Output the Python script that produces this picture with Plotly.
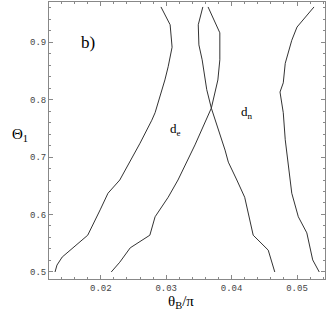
import plotly.graph_objects as go

# Curve data (theta_B/pi, Theta_1)
a_x = [0.0130, 0.0133, 0.0141, 0.0161, 0.0180, 0.0199, 0.0211, 0.0229, 0.0260, 0.0278, 0.0283, 0.0298, 0.0303, 0.0309, 0.0306, 0.0292]
a_y = [0.500, 0.512, 0.526, 0.545, 0.564, 0.608, 0.637, 0.660, 0.724, 0.764, 0.777, 0.834, 0.857, 0.891, 0.930, 0.961]

b_x = [0.0216, 0.0229, 0.0245, 0.0275, 0.0283, 0.0303, 0.0318, 0.0344, 0.0369, 0.0379, 0.0382, 0.0382, 0.0364]
b_y = [0.500, 0.517, 0.542, 0.564, 0.596, 0.630, 0.660, 0.721, 0.785, 0.834, 0.869, 0.916, 0.961]

c_x = [0.0466, 0.0456, 0.0433, 0.0420, 0.0408, 0.0395, 0.0390, 0.0369, 0.0362, 0.0355, 0.0350, 0.0349, 0.0356]
c_y = [0.500, 0.538, 0.564, 0.630, 0.660, 0.691, 0.712, 0.785, 0.817, 0.869, 0.895, 0.930, 0.961]

d_x = [0.0534, 0.0524, 0.0515, 0.0502, 0.0492, 0.0486, 0.0482, 0.0479, 0.0474, 0.0479, 0.0482, 0.0492, 0.0500, 0.0526]
d_y = [0.500, 0.521, 0.568, 0.596, 0.637, 0.690, 0.730, 0.777, 0.813, 0.829, 0.863, 0.903, 0.926, 0.961]

x_ticks = [0.02, 0.03, 0.04, 0.05]
y_ticks = [0.5, 0.6, 0.7, 0.8, 0.9]

fig = go.Figure()
for xs, ys in [(a_x, a_y), (b_x, b_y), (c_x, c_y), (d_x, d_y)]:
    fig.add_trace(go.Scatter(x=xs, y=ys, mode="lines",
                             line=dict(color="#333333", width=1), showlegend=False))

axis_common = dict(
    showline=True, linecolor="#888888", linewidth=1, mirror="allticks",
    ticks="inside", ticklen=4, tickcolor="#888888", tickwidth=1,
    showgrid=False, zeroline=False,
    tickfont=dict(family="Liberation Mono", size=9, color="#444444"),
)

fig.update_xaxes(range=[0.01208, 0.05428], tickvals=x_ticks,
                 ticktext=[f"{v:.2f}" for v in x_ticks],
                 minor=dict(dtick=0.002, ticks="inside", ticklen=2, tickcolor="#888888"),
                 **axis_common)
fig.update_yaxes(range=[0.4878, 0.9696], tickvals=y_ticks,
                 ticktext=[f"{v:.1f}" for v in y_ticks],
                 minor=dict(dtick=0.02, ticks="inside", ticklen=2, tickcolor="#888888"),
                 **axis_common)

serif = "Liberation Serif"
fig.add_annotation(x=0.01804, y=0.9, text="b)", showarrow=False,
                   font=dict(family=serif, size=17, color="black"))
fig.add_annotation(x=0.03135, y=0.747, text="d<sub>e</sub>", showarrow=False,
                   font=dict(family=serif, size=13, color="black"))
fig.add_annotation(x=0.04235, y=0.778, text="d<sub>n</sub>", showarrow=False,
                   font=dict(family=serif, size=13, color="black"))
fig.add_annotation(xref="paper", yref="paper", x=0.48, y=-0.045, yanchor="top",
                   text="θ<sub>B</sub>/π", showarrow=False,
                   font=dict(family=serif, size=15, color="black"))
fig.add_annotation(xref="paper", yref="paper", x=-0.14, y=0.52,
                   text="Θ<sub>1</sub>", showarrow=False,
                   font=dict(family=serif, size=15, color="black"))

fig.update_layout(width=327, height=315, plot_bgcolor="white", paper_bgcolor="white",
                  margin=dict(l=49, r=2, t=2, b=36))

fig.write_html("out.html", config={"displayModeBar": False},
               post_script="document.body.style.margin='0';document.body.style.overflow='hidden';")
